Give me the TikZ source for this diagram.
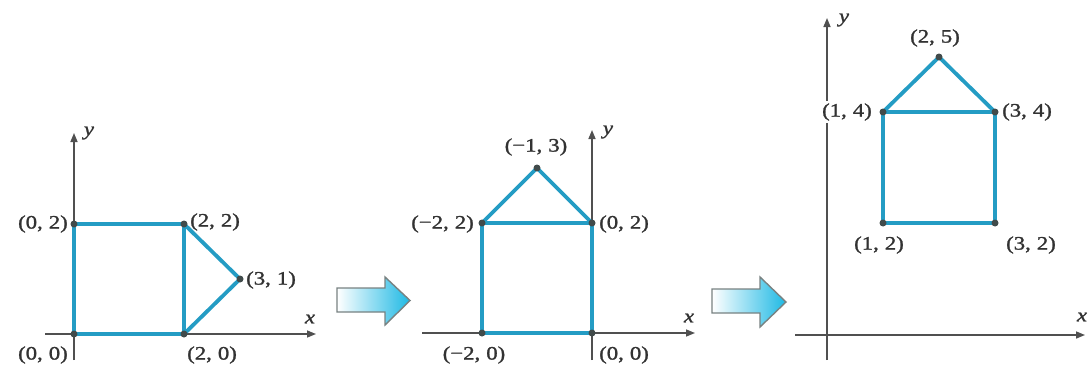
\documentclass[tikz,border=0pt]{standalone}
\usepackage{fontspec}
\setmainfont{Liberation Serif}[FakeStretch=1.2, FakeBold=1.3]
\usetikzlibrary{arrows.meta}
\definecolor{house}{RGB}{36,156,196}
\definecolor{axisc}{RGB}{80,80,80}
\definecolor{dotc}{RGB}{65,75,75}
\definecolor{labc}{RGB}{50,50,50}
\definecolor{arrfill}{RGB}{30,185,228}
\definecolor{arrmid}{RGB}{140,215,240}
\definecolor{arrdraw}{RGB}{120,130,130}
\newcommand\pair[2]{(#1,\hspace{6pt}#2)}
\begin{document}
\begin{tikzpicture}[x=1pt,y=-1pt,
  axisline/.style={draw=axisc, line width=1.5pt, -{Triangle[length=9pt,width=7pt]}},
  edge/.style={draw=house, line width=3.8pt, line cap=round, line join=round},
  dot/.style={circle, fill=dotc, inner sep=0pt, minimum size=7pt},
  lab/.style={text=labc, font=\fontsize{19}{20}\selectfont, inner sep=0pt},
  labbg/.style={lab, fill=white, inner xsep=1pt, inner ysep=2pt},
  axlab/.style={text=labc, font=\fontsize{19}{20}\selectfont\itshape, inner sep=0pt},
  blockarrow/.style={draw=arrdraw, line width=1.4pt, left color=white, middle color=arrmid, right color=arrfill, line join=miter}
]
\useasboundingbox (0,0) rectangle (1089,367);
\fill[white] (0,0) rectangle (1089,367);

% ---------- Panel 1 ----------
\coordinate (p1xs) at (45,334);
\coordinate (p1xe) at (316,334);
\coordinate (p1ys) at (74,360);
\coordinate (p1ye) at (74,133);
\draw[axisline] (p1xs) -- (p1xe);
\draw[axisline] (p1ys) -- (p1ye);
\node[axlab] (p1x) at (310,319) {x};
\node[axlab] (p1y) at (89,133) {y};

\coordinate (a1) at (74,334);
\coordinate (b1) at (184,334);
\coordinate (c1) at (184,224);
\coordinate (d1) at (74,224);
\coordinate (e1) at (240,279);
\draw[edge] (d1) -- (a1) -- (b1) -- (c1) -- cycle;
\draw[edge] (c1) -- (e1) -- (b1);
\foreach \p in {a1,b1,c1,d1,e1} \node[dot] (dot\p) at (\p) {};
\node[lab, anchor=east] (l1d) at (68,224) {\pair{0}{2}};
\node[lab, anchor=west] (l1c) at (190,222) {\pair{2}{2}};
\node[lab, anchor=west] (l1e) at (246,280) {\pair{3}{1}};
\node[lab, anchor=east] (l1a) at (68,355) {\pair{0}{0}};
\node[lab, anchor=west] (l1b) at (187,355) {\pair{2}{0}};

% ---------- Arrow 1 ----------
\path[blockarrow] (337,288) -- (385,288) -- (385,277) -- (410,300.5) -- (385,325) -- (385,312) -- (337,312) -- cycle;

% ---------- Panel 2 ----------
\coordinate (p2xs) at (422,333);
\coordinate (p2xe) at (695,333);
\coordinate (p2ys) at (592,360);
\coordinate (p2ye) at (592,130);
\draw[axisline] (p2xs) -- (p2xe);
\draw[axisline] (p2ys) -- (p2ye);
\node[axlab] (p2x) at (689,318) {x};
\node[axlab] (p2y) at (608,132) {y};

\coordinate (a2) at (482,333);
\coordinate (b2) at (592,333);
\coordinate (c2) at (592,223);
\coordinate (d2) at (482,223);
\coordinate (e2) at (537,168);
\draw[edge] (d2) -- (a2) -- (b2) -- (c2) -- cycle;
\draw[edge] (d2) -- (e2) -- (c2);
\foreach \p in {a2,b2,c2,d2,e2} \node[dot] (dot\p) at (\p) {};
\node[lab] (l2e) at (536,147) {\pair{−1}{3}};
\node[lab, anchor=east] (l2d) at (474,224) {\pair{−2}{2}};
\node[lab, anchor=west] (l2c) at (599,224) {\pair{0}{2}};
\node[lab] (l2a) at (474,355) {\pair{−2}{0}};
\node[lab, anchor=west] (l2b) at (599,355) {\pair{0}{0}};

% ---------- Arrow 2 ----------
\path[blockarrow] (712,289) -- (760,289) -- (760,277) -- (786,302) -- (760,327) -- (760,313) -- (712,313) -- cycle;

% ---------- Panel 3 ----------
\coordinate (p3xs) at (795,335);
\coordinate (p3xe) at (1085,335);
\coordinate (p3ys) at (827,360);
\coordinate (p3ye) at (827,18);
\draw[axisline] (p3xs) -- (p3xe);
\draw[axisline] (p3ys) -- (p3ye);
\node[axlab] (p3x) at (1082,317) {x};
\node[axlab] (p3y) at (844,20) {y};

\coordinate (a3) at (883,223);
\coordinate (b3) at (995,223);
\coordinate (c3) at (995,112);
\coordinate (d3) at (883,112);
\coordinate (e3) at (939,57);
\draw[edge] (d3) -- (a3) -- (b3) -- (c3) -- cycle;
\draw[edge] (d3) -- (e3) -- (c3);
\foreach \p in {a3,b3,c3,d3,e3} \node[dot] (dot\p) at (\p) {};
\node[lab] (l3e) at (935,38) {\pair{2}{5}};
\node[labbg, anchor=east] (l3d) at (873,112) {\pair{1}{4}};
\node[lab, anchor=west] (l3c) at (1002,112) {\pair{3}{4}};
\node[lab] (l3a) at (879,245) {\pair{1}{2}};
\node[lab] (l3b) at (1031,245) {\pair{3}{2}};
\end{tikzpicture}
\end{document}
